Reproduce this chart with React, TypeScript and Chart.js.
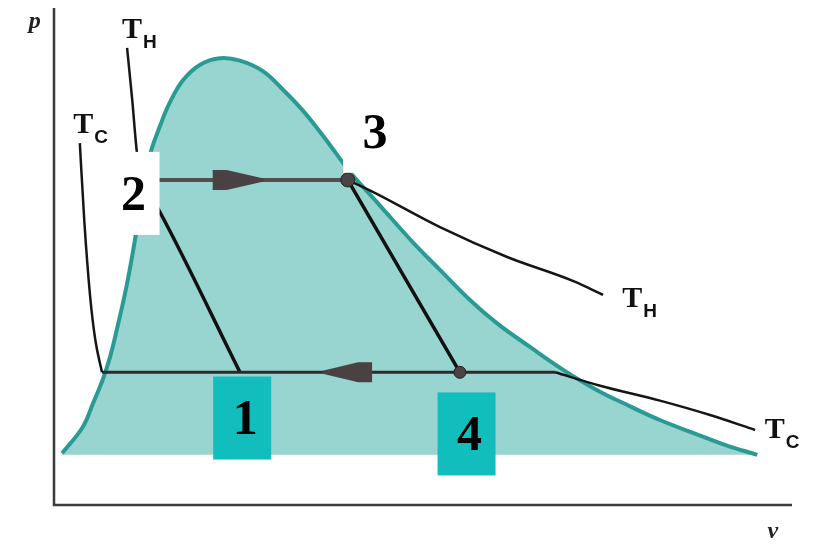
import { useEffect, useRef } from "react";
import { Chart, registerables } from "chart.js";
Chart.register(...registerables);

// Saturation dome (v, p)
const domeV = [1.1, 3.9, 5.3, 6.6, 7.6, 8.5, 10.0, 11.9, 13.0, 14.4, 15.7, 17.5, 19.8, 22.5, 25.2, 28.3, 31.0, 33.7, 36.4, 38.2, 40.1, 44.2, 48.6, 52.3, 56.4, 60.0, 64.5, 69.0, 73.6, 78.0, 82.1, 86.6, 90.9, 95.3];
const domeP = [10.4, 15.7, 20.5, 25.2, 29.8, 35.2, 45.3, 61.4, 70.4, 76.4, 81.0, 85.5, 88.6, 89.9, 89.4, 87.3, 83.6, 79.4, 74.4, 70.8, 67.0, 60.2, 52.9, 47.3, 41.2, 36.6, 31.8, 27.2, 23.1, 19.9, 17.1, 14.5, 12.1, 10.1];
const domeBase = 10.1;

// T_H isotherm
const thLeftV = [9.9, 10.6, 11.2, 11.8];
const thLeftP = [92.0, 81.5, 71.4, 65.4];
const thRightV = [39.8, 43.2, 52.3, 61.4, 70.3, 74.4];
const thRightP = [65.4, 63.0, 55.9, 49.9, 45.1, 42.3];

// T_C isotherm
const tcLeftV = [3.5, 4.1, 4.9, 5.6, 6.5];
const tcLeftP = [72.8, 57.3, 41.9, 33.2, 26.7];
const tcRightV = [67.9, 74.0, 82.1, 88.9, 95.0];
const tcRightP = [26.7, 24.0, 21.0, 18.1, 15.1];

// Cycle
const heatV = [11.8, 39.8];
const heatP = [65.4, 65.4];
const compV = [11.8, 14.4, 25.2];
const compP = [65.4, 58.8, 26.7];
const expV = [39.8, 55.0];
const expP = [65.4, 26.7];
const condV = [6.5, 67.9];
const condP = [26.7, 26.7];

// State markers (3, 4)
const markV = [39.8, 55.0];
const markP = [65.4, 26.7];
const markR = [7, 6];

// Arrows on isobars: base v, tip v, p
const arrowBaseV = [21.5, 43.1];
const arrowTipV = [28.4, 36.4];
const arrowP = [65.4, 26.7];

// State number labels
const stateLabels = ["2", "3", "1", "4"];
const stateLabelV = [10.37, 43.1, 25.5, 55.9];
const stateLabelP = [62.8, 75.3, 17.6, 14.4];
const stateLabelBox = ["#ffffff", "#ffffff", "#12bdbd", "#12bdbd"];

const pts = (vs: number[], ps: number[]) => vs.map((v, i) => ({ x: v, y: ps[i] }));

const line = (vs: number[], ps: number[], color: string, width: number, smooth = false) => ({
  type: "line" as const,
  data: pts(vs, ps),
  borderColor: color,
  borderWidth: width,
  pointRadius: 0,
  tension: smooth ? 0.4 : 0,
  cubicInterpolationMode: smooth ? ("monotone" as const) : ("default" as const),
  fill: false,
  order: 2,
});

export default function App() {
  const ref = useRef<HTMLCanvasElement>(null);
  useEffect(() => {
    if (!ref.current) return;

    const decor = {
      id: "decor",
      beforeDatasetsDraw(chart: any) {
        const { ctx, chartArea } = chart;
        ctx.save();
        ctx.strokeStyle = "#3a3a3a";
        ctx.lineWidth = 2.5;
        ctx.beginPath();
        ctx.moveTo(chartArea.left, chartArea.top);
        ctx.lineTo(chartArea.left, chartArea.bottom);
        ctx.lineTo(chartArea.right, chartArea.bottom);
        ctx.stroke();
        ctx.restore();
      },
      afterDatasetsDraw(chart: any) {
        const { ctx, scales } = chart;
        const xs = scales.x, ys = scales.y;
        const X = (v: number) => xs.getPixelForValue(v);
        const Y = (p: number) => ys.getPixelForValue(p);
        ctx.save();
        // arrows
        ctx.fillStyle = "#4a4242";
        arrowP.forEach((p, i) => {
          const bx = X(arrowBaseV[i]);
          const tx = X(arrowTipV[i]);
          const y = Y(p);
          const dir = Math.sign(tx - bx);
          const body = 14 * dir;
          const h = 10;
          ctx.beginPath();
          ctx.moveTo(bx, y - h);
          ctx.lineTo(bx + body, y - h);
          ctx.lineTo(tx, y - 1.5);
          ctx.lineTo(tx, y + 1.5);
          ctx.lineTo(bx + body, y + h);
          ctx.lineTo(bx, y + h);
          ctx.closePath();
          ctx.fill();
        });
        // state labels
        stateLabels.forEach((t, i) => {
          const cx = X(stateLabelV[i]);
          const cy = Y(stateLabelP[i]);
          ctx.fillStyle = stateLabelBox[i];
          ctx.fillRect(cx - 29, cy - 41, 58, 83);
          ctx.fillStyle = "#000";
          ctx.font = "bold 50px 'Liberation Serif', serif";
          ctx.textAlign = "center";
          ctx.textBaseline = "middle";
          ctx.fillText(t, cx + 3, cy + 4);
        });
        // isotherm labels
        const temp = (v: number, p: number, sub: string) => {
          const x = X(v), y = Y(p);
          ctx.fillStyle = "#111";
          ctx.textAlign = "left";
          ctx.textBaseline = "alphabetic";
          ctx.font = "bold 30px 'Liberation Serif', serif";
          ctx.fillText("T", x, y);
          const w = ctx.measureText("T").width;
          ctx.font = "bold 19px 'Liberation Sans', sans-serif";
          ctx.fillText(sub, x + w + 1, y + 10);
        };
        temp(9.2, 94.0, "H");
        temp(2.6, 74.8, "C");
        temp(77.0, 39.8, "H");
        temp(96.3, 13.5, "C");
        // axis letters
        ctx.font = "italic bold 24px 'Liberation Serif', serif";
        ctx.textAlign = "center";
        ctx.textBaseline = "middle";
        ctx.fillStyle = "#222";
        ctx.fillText("p", X(-2.6), Y(97.2));
        ctx.fillText("v", X(97.4), Y(-5.4));
        ctx.restore();
      },
    };

    const chart = new Chart(ref.current, {
      type: "line",
      data: {
        datasets: [
          {
            type: "line",
            data: pts(domeV, domeP),
            borderColor: "#2a9b94",
            backgroundColor: "#98d4d0",
            borderWidth: 4,
            pointRadius: 0,
            tension: 0.4,
            fill: { value: domeBase },
            order: 10,
          },
          line(thLeftV, thLeftP, "#161616", 2.5, true),
          line(thRightV, thRightP, "#161616", 2.5, true),
          line(tcLeftV, tcLeftP, "#161616", 2.5, true),
          line(tcRightV, tcRightP, "#161616", 2.5, true),
          line(heatV, heatP, "#555050", 4),
          line(condV, condP, "#2e2a2a", 3),
          line(compV, compP, "#111111", 3.5, true),
          line(expV, expP, "#111111", 3.5),
          {
            type: "scatter",
            data: pts(markV, markP),
            pointRadius: markR,
            pointBackgroundColor: "#4a4444",
            pointBorderColor: "#222",
            pointBorderWidth: 1,
            order: 0,
          } as any,
        ],
      },
      options: {
        animation: false,
        responsive: true,
        maintainAspectRatio: false,
        layout: { padding: { left: 54, top: 8, right: 28, bottom: 41 } },
        scales: {
          x: { type: "linear", min: 0, max: 100, display: false },
          y: { type: "linear", min: 0, max: 100, display: false },
        },
        plugins: { legend: { display: false }, tooltip: { enabled: false } },
      },
      plugins: [decor],
    });
    return () => chart.destroy();
  }, []);

  return (
    <div style={{ position: "fixed", left: 0, top: 0, width: 820, height: 546, background: "#fff" }}>
      <canvas ref={ref} />
    </div>
  );
}
